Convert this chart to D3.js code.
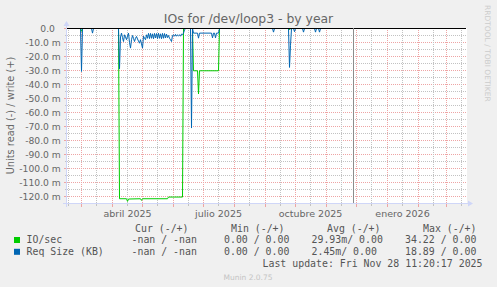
<!DOCTYPE html>
<html>
<head>
<meta charset="utf-8">
<script src="https://cdnjs.cloudflare.com/ajax/libs/d3/7.8.5/d3.min.js"></script>
<style>
    html, body { margin: 0; padding: 0; background: #f0f0f0; }
    svg { display: block; }
    text { font-family: "DejaVu Sans", sans-serif; fill: #666; }
    .mono { font-family: "DejaVu Sans Mono", monospace; fill: #555; }
</style>
</head>
<body>
<svg id="chart" width="497" height="287"></svg>
<script>
    // munin year view: window runs past "now"
    const timeStart = "2025-02-14T12:00:00";
    const timeEnd = "2026-03-21T12:00:00";
    const lastUpdate = "2025-11-28T11:20:17";

    const title = "IOs for /dev/loop3 - by year";
    const yAxisTitle = "Units read (-) / write (+)";

    const yTickValues = [0, -0.01, -0.02, -0.03, -0.04, -0.05, -0.06, -0.07, -0.08, -0.09, -0.10, -0.11, -0.12];
    const yTickLabels = ["0.0\u00a0\u00a0", "-10.0 m", "-20.0 m", "-30.0 m", "-40.0 m", "-50.0 m", "-60.0 m",
        "-70.0 m", "-80.0 m", "-90.0 m", "-100.0 m", "-110.0 m", "-120.0 m"];

    const xLabelDates = ["2025-04-16", "2025-07-16", "2025-10-16", "2026-01-16"];
    const xLabels = ["abril 2025", "julio 2025", "octubre 2025", "enero 2026"];

    // IO/sec, read side (plotted negative)
    const ioRead = [
        ["2025-02-15", 0], ["2025-02-28", 0], ["2025-03-01", -0.002], ["2025-03-02", 0],
        ["2025-04-07", 0], ["2025-04-08", -0.1216], ["2025-04-15", -0.1216], ["2025-04-16", -0.1235],
        ["2025-04-17", -0.1218], ["2025-04-29", -0.1216], ["2025-04-30", -0.1228], ["2025-05-01", -0.1216],
        ["2025-05-26", -0.1216], ["2025-05-27", -0.1204], ["2025-06-10", -0.1204], ["2025-06-11", 0],
        ["2025-06-20", 0], ["2025-06-21", -0.0302], ["2025-06-25", -0.0302], ["2025-06-26", -0.0467],
        ["2025-06-27", -0.0302], ["2025-07-16", -0.0302], ["2025-07-17", 0],
        ["2025-09-24", 0], ["2025-09-25", -0.001], ["2025-09-26", 0], ["2025-11-28", 0]
    ];

    // Req Size (KB), read side
    const reqSizeRead = [
        ["2025-02-15", 0], ["2025-02-28", 0], ["2025-03-01", -0.0307], ["2025-03-02", 0],
        ["2025-03-11", 0], ["2025-03-12", -0.0033], ["2025-03-13", 0],
        ["2025-04-07", 0], ["2025-04-08", -0.0288], ["2025-04-09", -0.006], ["2025-04-10", -0.0033],
        ["2025-04-11", -0.0065], ["2025-04-12", -0.0093], ["2025-04-13", -0.0045], ["2025-04-14", -0.006],
        ["2025-04-15", -0.008], ["2025-04-16", -0.0055], ["2025-04-17", -0.0033], ["2025-04-18", -0.010],
        ["2025-04-19", -0.014], ["2025-04-20", -0.008], ["2025-04-21", -0.005], ["2025-04-22", -0.007],
        ["2025-04-23", -0.0093], ["2025-04-24", -0.007], ["2025-04-25", -0.0057], ["2025-04-26", -0.0075],
        ["2025-04-27", -0.009], ["2025-04-28", -0.0105], ["2025-04-29", -0.008], ["2025-04-30", -0.011],
        ["2025-05-01", -0.014], ["2025-05-02", -0.0055], ["2025-05-03", -0.007], ["2025-05-04", -0.008],
        ["2025-05-05", -0.0045], ["2025-05-06", -0.007], ["2025-05-07", -0.0035], ["2025-05-08", -0.0072],
        ["2025-05-09", -0.0035], ["2025-05-10", -0.007], ["2025-05-11", -0.0038], ["2025-05-12", -0.0073],
        ["2025-05-13", -0.0035], ["2025-05-14", -0.0068], ["2025-05-15", -0.0036], ["2025-05-16", -0.0072],
        ["2025-05-17", -0.0034], ["2025-05-18", -0.007], ["2025-05-19", -0.0038], ["2025-05-20", -0.0073],
        ["2025-05-21", -0.0035], ["2025-05-22", -0.007], ["2025-05-23", -0.0036], ["2025-05-24", -0.0068],
        ["2025-05-25", -0.004], ["2025-05-26", -0.0065], ["2025-05-27", -0.005], ["2025-05-28", -0.007],
        ["2025-05-29", -0.008], ["2025-05-30", -0.0093], ["2025-05-31", -0.005], ["2025-06-01", -0.0045],
        ["2025-06-02", -0.0055], ["2025-06-03", -0.0042], ["2025-06-04", -0.0055], ["2025-06-05", -0.0045],
        ["2025-06-06", -0.0052], ["2025-06-07", -0.0045], ["2025-06-08", -0.0055], ["2025-06-09", -0.004],
        ["2025-06-10", -0.0045], ["2025-06-11", -0.0033], ["2025-06-12", -0.001], ["2025-06-13", 0],
        ["2025-06-18", 0], ["2025-06-19", -0.0711], ["2025-06-20", 0], ["2025-06-21", -0.0033],
        ["2025-06-25", -0.0033], ["2025-06-26", -0.0069], ["2025-06-27", -0.0033], ["2025-07-09", -0.0033],
        ["2025-07-10", -0.0067], ["2025-07-11", -0.0033], ["2025-07-12", -0.0033], ["2025-07-13", -0.0067],
        ["2025-07-14", -0.0033], ["2025-07-16", -0.0033], ["2025-07-17", 0],
        ["2025-09-08", 0], ["2025-09-09", -0.0026], ["2025-09-10", 0],
        ["2025-09-24", 0], ["2025-09-25", -0.0278], ["2025-09-26", -0.012], ["2025-09-27", 0],
        ["2025-09-29", 0], ["2025-09-30", -0.0023], ["2025-10-01", 0],
        ["2025-10-08", 0], ["2025-10-09", -0.0026], ["2025-10-10", 0],
        ["2025-10-20", 0], ["2025-10-21", -0.0026], ["2025-10-22", 0],
        ["2025-10-24", 0], ["2025-10-25", -0.0026], ["2025-10-26", 0], ["2025-11-28", 0]
    ];

    const seriesNames = ["IO/sec", "Req Size (KB)"];
    const seriesColors = ["#00cc00", "#0066b3"];
    const legendHeaders = ["Cur (-/+)", "Min (-/+)", "Avg (-/+)", "Max (-/+)"];
    const legendCur = ["-nan / -nan", "-nan / -nan"];
    const legendMin = ["0.00 / 0.00", "0.00 / 0.00"];
    const legendAvg = ["29.93m/ 0.00", "2.45m/ 0.00"];
    const legendMax = ["34.22 / 0.00", "18.89 / 0.00"];
    const lastUpdateText = "Last update: Fri Nov 28 11:20:17 2025";
    const footer = "Munin 2.0.75";
    const watermark = "RRDTOOL / TOBI OETIKER";

    const parse = d => new Date(d + (d.length === 10 ? "T00:00:00" : ""));
    const svg = d3.select("#chart");

    const x = d3.scaleTime().domain([parse(timeStart), parse(timeEnd)]).range([67, 467]);
    const y = d3.scaleLinear().domain([-0.125, 0]).range([203.5, 28.5]);
    const [x0, x1] = x.range();
    const cell = v => Math.floor(v + 1e-6);

    svg.append("rect").attr("x", x0).attr("y", 28).attr("width", x1 - x0).attr("height", 175).attr("fill", "#fff");

    const grid = svg.append("g").attr("shape-rendering", "crispEdges");
    const minorCol = "#c2c2c2";
    const majorCol = "#eea4a4";

    // rrdtool style dotted grid: one pixel on, one off, plus a short solid tick outside the axis
    const hLine = (v, col, tick) => {
        const r = cell(y(v));
        grid.append("path").attr("fill", col)
            .attr("d", d3.range(x0, x1, 2).map(c => `M${c},${r}h1v1h-1z`).join("") + `M${x0 - tick},${r}h${tick}v1h-${tick}z`);
    };
    const vLine = (d, col, tick) => {
        const c = cell(x(d));
        grid.append("path").attr("fill", col)
            .attr("d", d3.range(28, 203, 2).map(r => `M${c},${r}h1v1h-1z`).join("") + `M${c},204h1v${tick}h-1z`);
    };

    const minorY = d3.range(1, 25, 2).map(k => -k * 0.005);
    minorY.forEach(v => hLine(v, minorCol, 2));
    yTickValues.forEach(v => hLine(v, majorCol, 3));

    const [t0, t1] = x.domain();
    const months = d3.timeMonth.range(t0, t1);
    const mids = d3.timeMonth.range(d3.timeMonth.floor(t0), t1).map(d => d3.timeDay.offset(d, 15)).filter(d => d > t0 && d < t1);
    mids.forEach(d => vLine(d, minorCol, 2));
    months.forEach(d => vLine(d, majorCol, 3));

    // series
    const line = d3.line().x(d => x(parse(d[0]))).y(d => y(d[1]));
    [ioRead, reqSizeRead].forEach((s, i) => {
        svg.append("path").attr("d", line(s)).attr("fill", "none")
            .attr("stroke", seriesColors[i]).attr("stroke-width", 1);
    });

    // zero rule and "now" rule
    svg.append("rect").attr("x", x0).attr("y", cell(y(0))).attr("width", x1 - x0 - 1).attr("height", 1).attr("fill", "#000");
    svg.append("rect").attr("x", cell(x(parse(lastUpdate)))).attr("y", 28).attr("width", 1).attr("height", 176).attr("fill", "#8c8c8c");

    // axes with arrows
    const axisCol = "#cfd6f8";
    svg.append("rect").attr("x", x0 - 4).attr("y", 203).attr("width", x1 - x0 + 7).attr("height", 1).attr("fill", axisCol);
    svg.append("rect").attr("x", x0 - 1).attr("y", 24).attr("width", 1).attr("height", 183).attr("fill", axisCol);
    svg.append("path").attr("d", `M${x1 + 1},200.5L${x1 + 6},203.5L${x1 + 1},206.5Z`).attr("fill", axisCol);
    svg.append("path").attr("d", `M${x0 - 3.5},26L${x0 - 0.5},21L${x0 + 2.5},26Z`).attr("fill", axisCol);

    // tick labels
    svg.selectAll(".ylab").data(yTickValues).join("text").attr("class", "ylab")
        .attr("x", 60.8).attr("y", v => y(v) + 3.4).attr("text-anchor", "end")
        .style("font-size", "9.2px").text((v, i) => yTickLabels[i]);
    svg.selectAll(".xlab").data(xLabelDates).join("text").attr("class", "xlab")
        .attr("x", d => x(parse(d))).attr("y", 216.5).attr("text-anchor", "middle")
        .style("font-size", "9.5px").text((d, i) => xLabels[i]);

    // titles
    svg.append("text").attr("x", 248.5).attr("y", 23).attr("text-anchor", "middle")
        .style("font-size", "12.4px").text(title);
    svg.append("text").attr("transform", "translate(14,115.5) rotate(-90)").attr("text-anchor", "middle")
        .style("font-size", "9.8px").text(yAxisTitle);
    svg.append("text").attr("transform", "translate(485,5) rotate(90)").attr("text-anchor", "start")
        .style("font-size", "7.5px").style("fill", "#ccc").text(watermark);

    // legend
    const lg = svg.append("g").attr("class", "legend");
    const colX = [135, 231, 327, 423];
    legendHeaders.forEach((h, i) => {
        lg.append("text").attr("class", "mono").attr("x", colX[i]).attr("y", 231.5).style("font-size", "9.9px").text(h);
    });
    const valX = [131.5, 224, 311.5, 405];
    seriesNames.forEach((n, i) => {
        const ry = 243 + i * 11.8;
        lg.append("rect").attr("x", 14).attr("y", ry - 6).attr("width", 6).attr("height", 6).attr("fill", seriesColors[i]);
        lg.append("text").attr("class", "mono").attr("x", 26.5).attr("y", ry).style("font-size", "9.9px").text(n);
        [legendCur, legendMin, legendAvg, legendMax].forEach((col, j) => {
            lg.append("text").attr("class", "mono").attr("x", valX[j]).attr("y", ry)
                .style("font-size", "9.9px").style("white-space", "pre").text(col[i]);
        });
    });
    lg.append("text").attr("class", "mono").attr("x", 482.5).attr("y", 267.2).attr("text-anchor", "end")
        .style("font-size", "9.9px").text(lastUpdateText);
    svg.append("text").attr("x", 248).attr("y", 279.5).attr("text-anchor", "middle")
        .style("font-size", "7.5px").style("fill", "#c4c4c4").text(footer);
</script>
</body>
</html>
